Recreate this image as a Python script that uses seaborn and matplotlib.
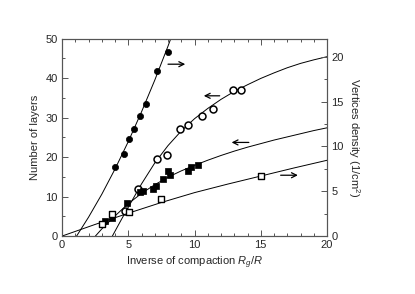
import numpy as np
import pandas as pd
import matplotlib
matplotlib.use("Agg")
import matplotlib.pyplot as plt
import seaborn as sns

# measured points (left axis = number of layers, right axis = vertices density)
open_circ_x = [4.76, 5.75, 7.16, 7.96, 8.92, 9.5, 10.6, 11.36, 12.9, 13.5]
open_circ_y = [6.4, 12.0, 19.5, 20.5, 27.0, 28.0, 30.5, 32.1, 37.0, 37.0]

fill_sq_x = [3.25, 3.8, 4.87, 5.9, 6.1, 6.9, 7.1, 7.6, 8.0, 8.15, 9.5, 9.75, 10.3]
fill_sq_y = [3.7, 4.5, 8.4, 11.2, 11.5, 11.9, 12.6, 14.4, 16.4, 15.5, 16.5, 17.5, 18.0]

fill_circ_x = [4.0, 4.69, 5.09, 5.42, 5.9, 6.35, 7.16, 8.01]
fill_circ_y = [7.7, 9.15, 10.87, 11.96, 13.4, 14.7, 18.4, 20.6]

open_sq_x = [3.05, 3.8, 5.04, 7.5, 15.0]
open_sq_y = [1.4, 2.42, 2.65, 4.1, 6.68]

# guide curves
open_circ_fit_x = [3.8, 4.5, 5, 6, 7, 8, 9, 10, 11, 12, 13, 14, 15, 16, 17, 18, 19, 20]
open_circ_fit_y = [0, 4.3, 7.3, 13.2, 18.5, 22.9, 26.6, 29.7, 32.3, 34.6, 36.6, 38.3,
                   39.9, 41.3, 42.6, 43.7, 44.6, 45.4]

fill_sq_fit_x = [2.52, 3, 4, 5, 6, 7, 8, 9, 10, 11, 12, 13, 14, 15, 16, 17, 18, 19, 20]
fill_sq_fit_y = [0, 1.8, 5.1, 8.2, 10.8, 13.0, 14.9, 16.5, 17.9, 19.2, 20.4, 21.5, 22.5,
                 23.4, 24.3, 25.1, 25.9, 26.7, 27.4]

fill_circ_fit_x = [1.1, 2, 3, 4, 5, 6, 7, 8, 8.2]
fill_circ_fit_y = [0, 2.1, 4.66, 7.48, 10.54, 13.86, 17.4, 21.2, 22.0]

open_sq_fit_x = [0, 2.5, 5, 7.5, 10, 12.5, 15, 17.5, 20]
open_sq_fit_y = [0, 1.3, 2.55, 3.75, 4.85, 5.8, 6.7, 7.6, 8.46]

sns.set_style("ticks")
plt.rcParams["font.family"] = ["Liberation Sans", "DejaVu Sans"]
plt.rcParams["mathtext.fontset"] = "custom"
plt.rcParams["mathtext.it"] = "Liberation Sans:italic"
plt.rcParams["mathtext.rm"] = "Liberation Sans"

fig = plt.figure(figsize=(4.15, 2.94), dpi=100)
ax = fig.add_axes([0.1494, 0.197, 0.6386, 0.672])
ax2 = ax.twinx()

line_kw = dict(color="black", linewidth=0.7, sort=False, legend=False)

# left-axis series
sns.lineplot(x=open_circ_fit_x, y=open_circ_fit_y, ax=ax, **line_kw)
sns.lineplot(x=fill_sq_fit_x, y=fill_sq_fit_y, ax=ax, **line_kw)
sns.scatterplot(x=open_circ_x, y=open_circ_y, ax=ax, marker="o", s=25,
                facecolor="white", edgecolor="black", linewidth=1.1, zorder=3)
sns.scatterplot(x=fill_sq_x, y=fill_sq_y, ax=ax, marker="s", s=13,
                color="black", edgecolor="black", linewidth=0.5, zorder=3)

# right-axis series
sns.lineplot(x=fill_circ_fit_x, y=fill_circ_fit_y, ax=ax2, **line_kw)
sns.lineplot(x=open_sq_fit_x, y=open_sq_fit_y, ax=ax2, **line_kw)
sns.scatterplot(x=fill_circ_x, y=fill_circ_y, ax=ax2, marker="o", s=20,
                color="black", edgecolor="black", linewidth=0.5, zorder=3)
sns.scatterplot(x=open_sq_x, y=open_sq_y, ax=ax2, marker="s", s=15,
                facecolor="white", edgecolor="black", linewidth=1.0, zorder=3)

# arrows showing which axis each series belongs to
arrows = [((8.0, 43.5), (9.3, 43.5)),
          ((11.9, 35.5), (10.7, 35.5)),
          ((14.1, 23.7), (12.8, 23.7)),
          ((16.5, 15.4), (17.8, 15.4))]
for tail, head in arrows:
    ax.annotate("", xy=head, xytext=tail,
                arrowprops=dict(arrowstyle="->", color="black", lw=0.9,
                                shrinkA=0, shrinkB=0, mutation_scale=9))

ax.set_xlim(0, 20)
ax.set_ylim(0, 50)
ax2.set_ylim(0, 22.05)
ax.set_xticks([0, 5, 10, 15, 20])
ax.set_xticks(np.arange(0, 21, 1), minor=True)
ax.set_yticks([0, 10, 20, 30, 40, 50])
ax.set_yticks(np.arange(0, 51, 5), minor=True)
ax2.set_yticks([0, 5, 10, 15, 20])
ax2.set_yticks(np.arange(0, 22.1, 2.5), minor=True)

for a in (ax, ax2):
    for sp in a.spines.values():
        sp.set_visible(True)
        sp.set_color("#555555")
        sp.set_linewidth(0.8)
ax.tick_params(which="both", direction="in", top=True, right=False,
               labelsize=8, pad=3, color="#555555", width=0.7)
ax.tick_params(which="major", length=4)
ax.tick_params(which="minor", length=2)
ax2.tick_params(which="both", direction="in", labelsize=8, pad=3,
                color="#555555", width=0.7)
ax2.tick_params(which="major", length=4)
ax2.tick_params(which="minor", length=2)

ax.set_xlabel("Inverse of compaction $R_g$/$R$", fontsize=8, labelpad=3)
ax.set_ylabel("Number of layers", fontsize=8, labelpad=4)
ax2.set_ylabel("Vertices density (1/cm$^2$)", fontsize=8, rotation=-90, labelpad=13)

fig.savefig("out.png", dpi=100)
